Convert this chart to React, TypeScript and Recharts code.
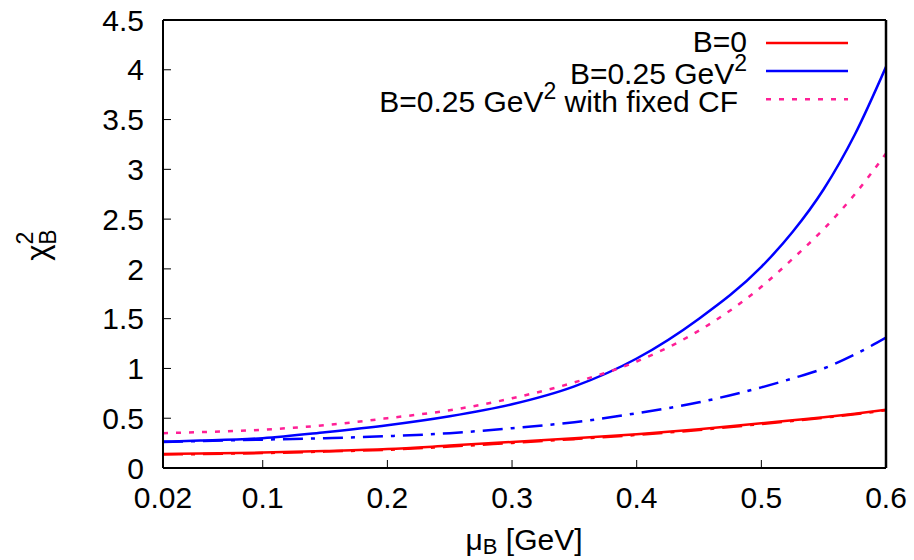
import { LineChart, Line, XAxis, YAxis, Legend } from 'recharts'

// mu_B [GeV] sample points
const muB = [0.02, 0.05, 0.1, 0.15, 0.2, 0.25, 0.3, 0.35, 0.4, 0.45, 0.5, 0.525, 0.55, 0.575, 0.6]

// chi^2_B
const chiB0 = [0.14, 0.145, 0.155, 0.17, 0.19, 0.225, 0.262, 0.3, 0.34, 0.39, 0.45, 0.48, 0.51, 0.545, 0.585]
const chiB0DashDot = [0.135, 0.14, 0.15, 0.165, 0.183, 0.215, 0.252, 0.29, 0.332, 0.382, 0.442, 0.473, 0.505, 0.54, 0.58]
const chiB025 = [0.265, 0.275, 0.3, 0.36, 0.43, 0.52, 0.64, 0.82, 1.1, 1.5, 2.02, 2.37, 2.8, 3.35, 4.03]
const chiB025DashDot = [0.26, 0.27, 0.285, 0.3, 0.32, 0.35, 0.4, 0.46, 0.55, 0.66, 0.81, 0.9, 1.0, 1.14, 1.31]
const chiB025FixedCF = [0.35, 0.36, 0.385, 0.43, 0.5, 0.58, 0.7, 0.86, 1.07, 1.38, 1.82, 2.1, 2.4, 2.75, 3.16]

const xTicks = [0.02, 0.1, 0.2, 0.3, 0.4, 0.5, 0.6]
const yTicks = [0, 0.5, 1, 1.5, 2, 2.5, 3, 3.5, 4, 4.5]

const FONT = '"Liberation Sans", Arial, Helvetica, sans-serif'

const series = [
  { key: 'b0dd', color: '#ff0000', dash: '20 8 4 8', width: 2.5, legend: null, values: chiB0DashDot },
  { key: 'b025dd', color: '#0000ff', dash: '20 8 4 8', width: 2.5, legend: null, values: chiB025DashDot },
  { key: 'b0', color: '#ff0000', dash: undefined, width: 2.5, legend: ['B=0', '', ''], values: chiB0 },
  { key: 'b025', color: '#0000ff', dash: undefined, width: 2.5, legend: ['B=0.25 GeV', '2', ''], values: chiB025 },
  { key: 'fixedcf', color: '#ff1f96', dash: '5 8', width: 2.5, legend: ['B=0.25 GeV', '2', ' with fixed CF'], values: chiB025FixedCF },
]

const data = muB.map((mu, i) => {
  const row: Record<string, number> = { mu }
  series.forEach(s => {
    row[s.key] = s.values[i]
  })
  return row
})

const tickStyle = { fontSize: 30, fill: '#000', fontFamily: FONT }

// legend rows: sample line y, text baseline, text right edge
const legendLineY = [43, 71, 99.3]
const legendTextY = [52, 83.5, 112]
const legendTextRight = [747, 747, 738]

function LegendBox() {
  const items = series.filter(s => s.legend)
  return (
    <svg width={914} height={130} style={{ display: 'block' }}>
      {items.map((s, i) => {
        const [main, sup, rest] = s.legend as string[]
        return (
          <g key={s.key}>
            <text
              x={legendTextRight[i]}
              y={legendTextY[i]}
              textAnchor="end"
              fontFamily={FONT}
              fontSize={30}
              fill="#000"
            >
              {main}
              {sup && (
                <tspan dy={-13} fontSize={23}>
                  {sup}
                </tspan>
              )}
              {rest && <tspan dy={13}>{rest}</tspan>}
            </text>
            <line
              x1={766}
              x2={848}
              y1={legendLineY[i]}
              y2={legendLineY[i]}
              stroke={s.color}
              strokeWidth={2.5}
              strokeDasharray={s.dash}
            />
          </g>
        )
      })}
    </svg>
  )
}

function YLabel() {
  return (
    <text transform="translate(48,245) rotate(-90)" textAnchor="middle" fontFamily={FONT} fontSize={31} fill="#000">
      χ
      <tspan dy={-15} fontSize={23}>2</tspan>
      <tspan dx={-13} dy={23} fontSize={23}>B</tspan>
    </text>
  )
}

function XLabel() {
  return (
    <text x={524} y={550} textAnchor="middle" fontFamily={FONT} fontSize={30} fill="#000">
      μ
      <tspan dy={4} fontSize={22}>B</tspan>
      <tspan dy={-4}> [GeV]</tspan>
    </text>
  )
}

export default function App() {
  return (
    <div style={{ position: 'absolute', left: 0, top: 0, width: 914, height: 560, background: '#fff' }}>
      <LineChart width={914} height={560} data={data} margin={{ top: 19, right: 27, left: 0, bottom: 0 }}>
        <XAxis
          dataKey="mu"
          type="number"
          domain={[0.02, 0.6]}
          allowDataOverflow
          ticks={xTicks}
          interval={0}
          tickFormatter={(v: number) => String(v)}
          tick={tickStyle}
          tickSize={-8}
          tickMargin={27}
          tickLine={{ stroke: '#000', strokeWidth: 1 }}
          axisLine={{ stroke: '#000', strokeWidth: 2 }}
          height={92}
          label={{ content: () => <XLabel /> }}
        />
        <XAxis
          xAxisId="top"
          orientation="top"
          type="number"
          domain={[0.02, 0.6]}
          allowDataOverflow
          ticks={xTicks}
          interval={0}
          tick={false}
          tickSize={-8}
          tickLine={{ stroke: '#000', strokeWidth: 1 }}
          axisLine={{ stroke: '#000', strokeWidth: 2 }}
          height={1}
        />
        <YAxis
          type="number"
          domain={[0, 4.5]}
          allowDataOverflow
          ticks={yTicks}
          interval={0}
          tickFormatter={(v: number) => String(v)}
          tick={tickStyle}
          tickSize={-8}
          tickMargin={27}
          tickLine={{ stroke: '#000', strokeWidth: 1 }}
          axisLine={{ stroke: '#000', strokeWidth: 2 }}
          width={163}
          label={{ content: () => <YLabel /> }}
        />
        <YAxis
          yAxisId="right"
          orientation="right"
          type="number"
          domain={[0, 4.5]}
          allowDataOverflow
          ticks={yTicks}
          interval={0}
          tick={false}
          tickSize={-8}
          tickLine={{ stroke: '#000', strokeWidth: 1 }}
          axisLine={{ stroke: '#000', strokeWidth: 2.5 }}
          width={1}
        />
        <Legend
          content={() => <LegendBox />}
          layout="horizontal"
          verticalAlign="middle"
          align="center"
          wrapperStyle={{ left: 0, top: 0, width: 914, height: 130 }}
        />
        {series.map(s => (
          <Line
            key={s.key}
            dataKey={s.key}
            type="monotone"
            stroke={s.color}
            strokeWidth={s.width}
            strokeDasharray={s.dash}
            dot={false}
            activeDot={false}
            isAnimationActive={false}
          />
        ))}
      </LineChart>
    </div>
  )
}
